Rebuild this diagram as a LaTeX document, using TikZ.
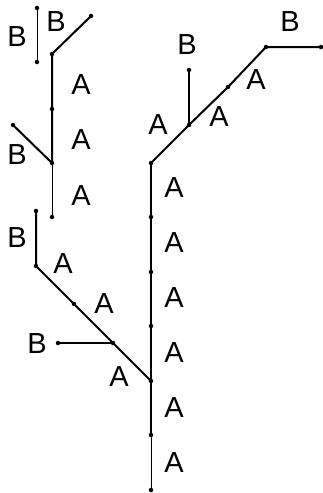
\documentclass[tikz,border=0pt]{standalone}
\usepackage{fontspec}
\setmainfont{Liberation Sans}
\begin{document}
\begin{tikzpicture}[x=1pt,y=-1pt,
  pt/.style={circle,fill=black,inner sep=0pt,minimum size=4.5pt},
  thk/.style={line width=2pt},
  thn/.style={line width=1pt},
  lbl/.style={inner sep=0pt,font=\fontsize{29}{29}\selectfont}]
\useasboundingbox (0,0) rectangle (323,493);
% main trunk
\node[pt] (t0) at (151,490) {};
\node[pt] (t1) at (151,435) {};
\node[pt] (t2) at (151,381) {};
\node[pt] (t3) at (151,326) {};
\node[pt] (t4) at (151,272) {};
\node[pt] (t5) at (151,217) {};
\node[pt] (t6) at (151,163) {};
% right branch
\node[pt] (r1) at (189,125) {};
\node[pt] (r2) at (228,87) {};
\node[pt] (r3) at (266,47) {};
\node[pt] (r4) at (321,47) {};
\node[pt] (rb) at (189,70) {};
% lower left branch
\node[pt] (l1) at (113,343) {};
\node[pt] (l2) at (74,304) {};
\node[pt] (l3) at (36,266) {};
\node[pt] (l4) at (36,211) {};
\node[pt] (lb) at (58,343) {};
% upper left
\node[pt] (u0) at (52,217) {};
\node[pt] (u1) at (52,163) {};
\node[pt] (u2) at (52,109) {};
\node[pt] (u3) at (52,54) {};
\node[pt] (u4) at (91,16) {};
\node[pt] (u5) at (13,125) {};
\node[pt] (s0) at (37,8) {};
\node[pt] (s1) at (37,62) {};
% edges
\draw[thn] (t0) -- (t1);
\draw[thk] (t1) -- (t2) -- (t3) -- (t4) -- (t5) -- (t6);
\draw[thk] (t6.center) -- (r1.center) -- (r2.center) -- (r3.center) -- (r4.center);
\draw[thk] (r1) -- (rb);
\draw[thk] (t2.center) -- (l1.center) -- (l2.center) -- (l3.center) -- (l4.center);
\draw[thk] (l1) -- (lb);
\draw[thn] (u0) -- (u1);
\draw[thk] (u1.center) -- (u2.center) -- (u3.center) -- (u4.center);
\draw[thk] (u1.center) -- (u5.center);
\draw[thn] (s0) -- (s1);
% labels
\node[lbl] (a1) at (174,463) {A};
\node[lbl] (a2) at (174,408) {A};
\node[lbl] (a3) at (174,353) {A};
\node[lbl] (a4) at (174,298) {A};
\node[lbl] (a5) at (174,243) {A};
\node[lbl] (a6) at (174,188) {A};
\node[lbl] (a7) at (158,125) {A};
\node[lbl] (a8) at (219,117) {A};
\node[lbl] (a9) at (256,80) {A};
\node[lbl] (b1) at (187,45) {B};
\node[lbl] (b2) at (290,22) {B};
\node[lbl] (a10) at (119,377) {A};
\node[lbl] (a11) at (104,304) {A};
\node[lbl] (a12) at (63,264) {A};
\node[lbl] (b3) at (37,344) {B};
\node[lbl] (b4) at (17,238) {B};
\node[lbl] (a13) at (81,196) {A};
\node[lbl] (a14) at (81,140) {A};
\node[lbl] (a15) at (81,85) {A};
\node[lbl] (b5) at (17,155) {B};
\node[lbl] (b6) at (17,37) {B};
\node[lbl] (b7) at (56,22) {B};
\end{tikzpicture}
\end{document}
